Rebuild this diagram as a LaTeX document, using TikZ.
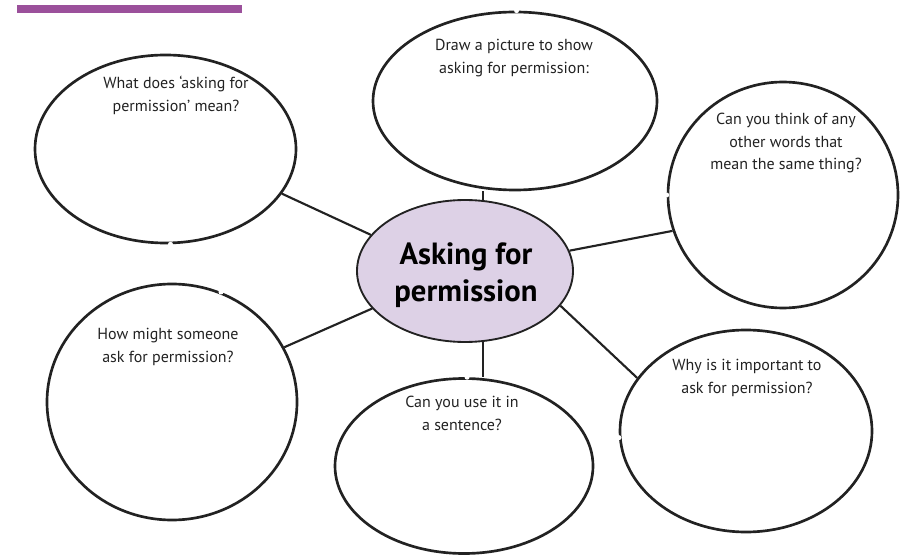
\documentclass[tikz,border=0pt]{standalone}
\usepackage{fontspec}
\setmainfont{PT Sans}
\usepackage{xcolor}
\usepackage{tikz}
\usetikzlibrary{shapes}
\usetikzlibrary{calc}

\definecolor{strip}{RGB}{155,80,155}
\definecolor{lilac}{RGB}{221,209,230}
\definecolor{ink}{RGB}{34,34,34}

\begin{document}
\begin{tikzpicture}[x=0.75pt,y=-0.75pt]
    \useasboundingbox (0,0) rectangle (909,559);
    \fill[strip] (17,5) rectangle (242,13);
    \begin{scope}[every node/.style={ellipse,draw=ink,line width=2pt}]
      \node[fill=lilac,line width=1.4pt,minimum width=216*0.75pt,minimum height=142*0.75pt] (hub) at (465,271) {};
      \node[minimum width=261*0.75pt,minimum height=188*0.75pt] (mean) at (165.5,149) {};
      \node[minimum width=284*0.75pt,minimum height=178*0.75pt] (picture) at (515,101) {};
      \node[minimum width=230*0.75pt,minimum height=226*0.75pt] (words) at (783,195) {};
      \node[minimum width=250*0.75pt,minimum height=236*0.75pt] (how) at (172,402) {};
      \node[minimum width=258*0.75pt,minimum height=175*0.75pt] (sentence) at (464,466) {};
      \node[minimum width=252*0.75pt,minimum height=202*0.75pt] (why) at (746,431) {};
    \end{scope}
    % little breaks in the outlines
    \begin{scope}[every path/.style={fill=white}]
      \path (mean.-87) circle (2.5);
      \path (picture.89) circle (2.5);
      \path (words.180) circle (2.5);
      \path (how.66) circle (2.5);
      \path (sentence.88) circle (2.5);
      \path (why.183) circle (2.5);
    \end{scope}
    \node[align=center,text=black,font=\fontsize{23}{28}\selectfont\bfseries] (title) at (466,275) {Asking for\\permission};
    \begin{scope}[every node/.style={align=center,anchor=north,inner sep=0pt,text=ink,
                  font=\fontsize{12}{17}\selectfont}]
      \node (t1) at (176,76) {What does ‘asking for\\permission’ mean?};
      \node (t2) at (514,39) {Draw a picture to show\\asking for permission:};
      \node (t3) at (786,113) {Can you think of any\\other words that\\mean the same thing?};
      \node (t4) at (168,328) {How might someone\\ask for permission?};
      \node (t5) at (462,396) {Can you use it in\\a sentence?};
      \node (t6) at (747,359) {Why is it important to\\ask for permission?};
    \end{scope}
    \begin{scope}[every edge/.style={draw=ink,line width=1.6pt}]
      \path (hub.159) edge (mean.-21);
      \path (hub.76) edge (hub.76 |- picture.south);
      \path (hub.11) edge (words.198);
      \path (hub.202) edge (how.26);
      \path (hub.-76) edge (hub.-76 |- sentence.north);
      \path (hub.-20) edge (why.154);
    \end{scope}
\end{tikzpicture}
\end{document}
